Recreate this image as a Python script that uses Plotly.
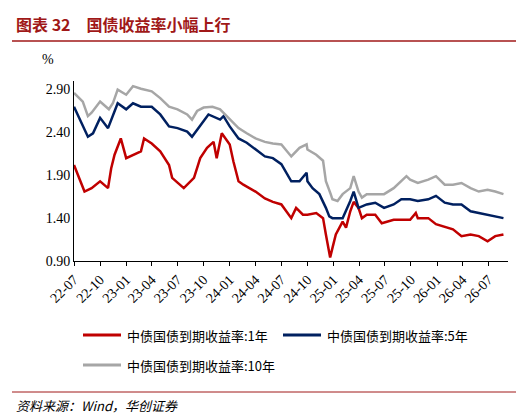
import plotly.graph_objects as go

d10 = ["2022-07-01","2022-08-01","2022-08-19","2022-09-01","2022-10-01","2022-11-01","2022-11-15","2022-12-02","2023-01-01","2023-01-25","2023-02-22","2023-04-01","2023-05-01","2023-06-01","2023-07-01","2023-08-04","2023-08-21","2023-09-08","2023-10-01","2023-11-01","2023-11-28","2024-01-01","2024-02-01","2024-03-01","2024-04-01","2024-05-04","2024-06-01","2024-07-01","2024-07-30","2024-08-05","2024-09-03","2024-09-28","2024-10-01","2024-11-01","2024-11-25","2024-12-05","2024-12-22","2024-12-28","2025-01-15","2025-02-02","2025-03-01","2025-03-13","2025-03-30","2025-04-11","2025-04-28","2025-05-28","2025-06-28","2025-08-01","2025-08-28","2025-09-15","2025-09-28","2025-10-25","2025-12-01","2025-12-28","2026-01-28","2026-02-26","2026-03-28","2026-04-29","2026-05-28","2026-06-28","2026-07-25","2026-08-23"]
y10 = [2.86,2.76,2.59,2.63,2.76,2.67,2.74,2.90,2.84,2.94,2.91,2.88,2.80,2.70,2.67,2.61,2.55,2.65,2.69,2.70,2.67,2.55,2.45,2.39,2.33,2.29,2.27,2.26,2.14,2.12,2.22,2.26,2.20,2.14,2.07,1.83,1.68,1.62,1.60,1.68,1.75,1.89,1.71,1.64,1.68,1.68,1.68,1.75,1.83,1.89,1.85,1.81,1.85,1.89,1.79,1.79,1.81,1.75,1.71,1.73,1.71,1.68]

d5 = ["2022-07-01","2022-08-01","2022-08-19","2022-09-06","2022-10-01","2022-10-29","2022-11-15","2022-12-02","2023-01-01","2023-01-25","2023-02-22","2023-04-01","2023-05-01","2023-06-01","2023-07-01","2023-08-04","2023-08-21","2023-09-08","2023-10-01","2023-10-18","2023-11-28","2023-12-10","2024-01-01","2024-02-01","2024-03-01","2024-04-01","2024-05-04","2024-06-01","2024-07-01","2024-08-05","2024-09-03","2024-09-28","2024-10-01","2024-10-19","2024-11-12","2024-12-05","2024-12-17","2024-12-28","2025-02-02","2025-03-01","2025-03-13","2025-03-30","2025-04-28","2025-05-28","2025-06-28","2025-08-01","2025-08-28","2025-09-28","2025-10-25","2025-12-01","2025-12-28","2026-01-28","2026-02-26","2026-03-28","2026-04-29","2026-05-28","2026-06-28","2026-07-25","2026-08-23"]
y5 = [2.70,2.49,2.35,2.39,2.57,2.45,2.59,2.74,2.67,2.74,2.70,2.70,2.61,2.47,2.45,2.41,2.35,2.43,2.53,2.61,2.55,2.59,2.47,2.33,2.28,2.20,2.12,2.10,2.03,1.83,1.83,1.93,1.83,1.75,1.68,1.52,1.42,1.40,1.40,1.60,1.71,1.52,1.56,1.58,1.52,1.56,1.62,1.62,1.60,1.62,1.66,1.58,1.56,1.56,1.48,1.46,1.44,1.42,1.40]

d1 = ["2022-07-01","2022-07-20","2022-08-07","2022-09-01","2022-10-01","2022-10-29","2022-11-09","2022-11-21","2022-12-13","2023-01-01","2023-01-25","2023-02-22","2023-03-05","2023-04-01","2023-05-01","2023-06-01","2023-06-12","2023-07-23","2023-08-28","2023-09-19","2023-10-13","2023-11-05","2023-11-16","2023-12-04","2024-01-01","2024-01-14","2024-02-01","2024-02-18","2024-04-01","2024-05-04","2024-06-01","2024-07-01","2024-08-05","2024-08-22","2024-09-15","2024-10-01","2024-11-01","2024-11-25","2024-12-05","2024-12-20","2024-12-28","2025-01-09","2025-02-02","2025-02-14","2025-03-01","2025-03-13","2025-03-30","2025-04-11","2025-04-28","2025-05-28","2025-06-20","2025-08-01","2025-09-28","2025-10-18","2025-10-25","2025-12-01","2025-12-28","2026-01-28","2026-02-26","2026-03-28","2026-04-29","2026-05-28","2026-06-28","2026-07-25","2026-08-23"]
y1 = [2.02,1.85,1.71,1.75,1.83,1.75,1.98,2.14,2.33,2.10,2.14,2.18,2.33,2.27,2.18,2.02,1.87,1.75,1.87,2.10,2.22,2.29,2.10,2.39,2.26,2.06,1.83,1.79,1.71,1.63,1.59,1.56,1.40,1.52,1.44,1.44,1.46,1.40,1.21,0.94,1.05,1.21,1.36,1.29,1.48,1.59,1.52,1.40,1.44,1.44,1.34,1.38,1.38,1.46,1.40,1.40,1.33,1.30,1.27,1.19,1.21,1.19,1.13,1.19,1.21]

tick_vals = ["2022-07-01","2022-10-01","2023-01-01","2023-04-01","2023-07-01","2023-10-01","2024-01-01","2024-04-01","2024-07-01","2024-10-01","2025-01-01","2025-04-01","2025-07-01","2025-10-01","2026-01-01","2026-04-01","2026-07-01"]
tick_text = ["22-07","22-10","23-01","23-04","23-07","23-10","24-01","24-04","24-07","24-10","25-01","25-04","25-07","25-10","26-01","26-04","26-07"]
y_ticks = [0.90, 1.40, 1.90, 2.40, 2.90]

names = ["中债国债到期收益率:1年", "中债国债到期收益率:5年", "中债国债到期收益率:10年"]
colors = ["#C00000", "#002060", "#A6A6A6"]

serif = "Times New Roman, Liberation Serif, serif"
cjk = "Noto Sans CJK SC"

fig = go.Figure()
for d, y, n, c in zip([d1, d5, d10], [y1, y5, y10], names, colors):
    fig.add_trace(go.Scatter(x=d, y=y, mode="lines", name=n, line=dict(color=c, width=2.5), showlegend=False))

W, H = 434, 180
def px(x):
    return (x - 66) / W
def py(y):
    return (253 - y) / H

# manual legend placement (pixel positions in the page)
leg_pos = [(75, 327), (275, 327), (75, 357)]
shapes = [
    dict(type="line", xref="paper", yref="paper", x0=px(4), x1=px(520), y0=py(33), y1=py(33),
         line=dict(color="#A01818", width=1.5)),
    dict(type="line", xref="paper", yref="paper", x0=px(4), x1=px(520), y0=py(384), y1=py(384),
         line=dict(color="#A01818", width=1)),
]
annotations = [
    dict(text="<b>图表 32　国债收益率小幅上行</b>", xref="paper", yref="paper", x=px(6), y=py(16),
         xanchor="left", yanchor="middle", showarrow=False, font=dict(family=cjk, size=16, color="#A01818")),
    dict(text="%", xref="paper", yref="paper", x=px(32), y=py(52), xanchor="left", yanchor="middle",
         showarrow=False, font=dict(family=serif, size=14, color="black")),
    dict(text="<i>资料来源：Wind，华创证券</i>", xref="paper", yref="paper", x=px(6), y=py(397),
         xanchor="left", yanchor="middle", showarrow=False, font=dict(family=cjk, size=13, color="black")),
]
for (lx, ly), n, c in zip(leg_pos, names, colors):
    shapes.append(dict(type="line", xref="paper", yref="paper", x0=px(lx), x1=px(lx + 38), y0=py(ly), y1=py(ly),
                       line=dict(color=c, width=3)))
    annotations.append(dict(text=n, xref="paper", yref="paper", x=px(lx + 42), y=py(ly), xanchor="left",
                            yanchor="middle", showarrow=False, font=dict(family=cjk, size=13, color="black")))

fig.update_layout(
    width=524, height=413, paper_bgcolor="white", plot_bgcolor="white",
    margin=dict(l=66, r=24, t=73, b=160),
    showlegend=False,
    xaxis=dict(type="date", range=["2022-07-01", "2026-09-08"], tickvals=tick_vals, ticktext=tick_text,
               tickangle=-45, ticks="outside", ticklen=4, tickcolor="black", showgrid=False,
               showline=True, linecolor="black", linewidth=1, zeroline=False,
               tickfont=dict(family=serif, size=14, color="black")),
    yaxis=dict(range=[0.9, 3.0], tickvals=y_ticks, ticktext=[f"{v:.2f}" for v in y_ticks],
               showgrid=False, showline=True, linecolor="black", linewidth=1, zeroline=False,
               ticks="", tickfont=dict(family=serif, size=14, color="black")),
    annotations=annotations,
    shapes=shapes,
)
fig.write_html("out.html")
